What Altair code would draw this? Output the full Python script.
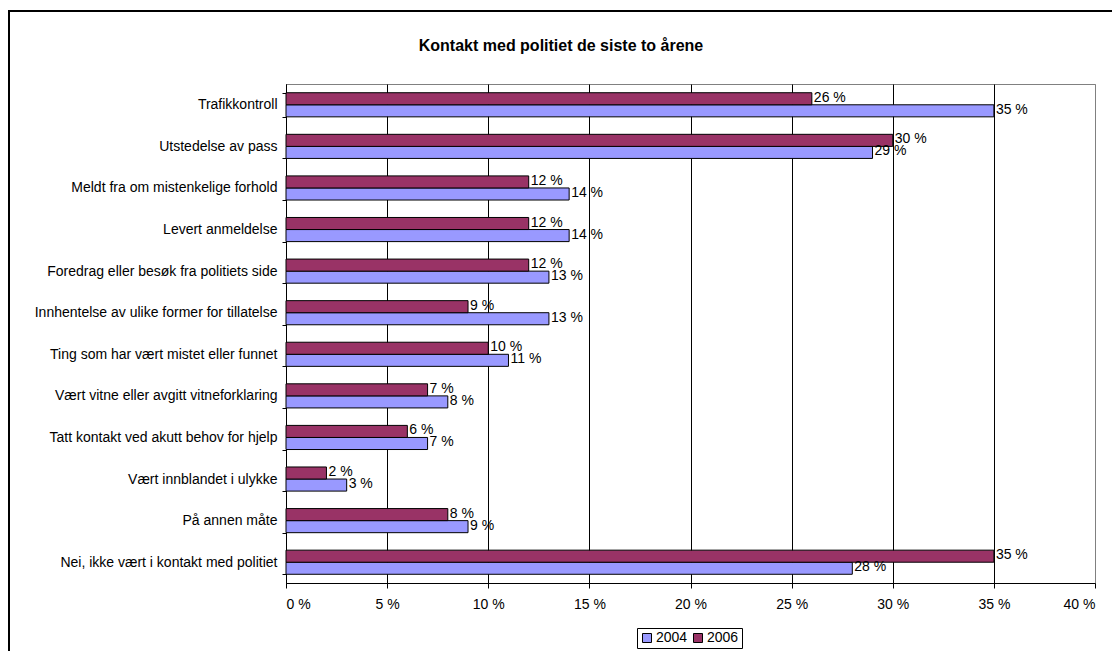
import altair as alt
import pandas as pd

categories = [
    "Trafikkontroll",
    "Utstedelse av pass",
    "Meldt fra om mistenkelige forhold",
    "Levert anmeldelse",
    "Foredrag eller besøk fra politiets side",
    "Innhentelse av ulike former for tillatelse",
    "Ting som har vært mistet eller funnet",
    "Vært vitne eller avgitt vitneforklaring",
    "Tatt kontakt ved akutt behov for hjelp",
    "Vært innblandet i ulykke",
    "På annen måte",
    "Nei, ikke vært i kontakt med politiet",
]
values_2004 = [35, 29, 14, 14, 13, 13, 11, 8, 7, 3, 9, 28]
values_2006 = [26, 30, 12, 12, 12, 9, 10, 7, 6, 2, 8, 35]
x_ticks = [0, 5, 10, 15, 20, 25, 30, 35, 40]
title_text = "Kontakt med politiet de siste to årene"

rows = []
for c, v4, v6 in zip(categories, values_2004, values_2006):
    rows.append({"kategori": c, "år": "2004", "verdi": v4})
    rows.append({"kategori": c, "år": "2006", "verdi": v6})
df = pd.DataFrame(rows)
df["etikett"] = df["verdi"].astype(str) + " %"
single = pd.DataFrame([{"tekst": title_text}])

FONT = "Liberation Sans"
FS = 14
W, H = 809, 499

y_enc = alt.Y(
    "kategori:N",
    sort=categories,
    title=None,
    scale=alt.Scale(paddingInner=0.42, paddingOuter=0.21),
    axis=alt.Axis(
        labelFont=FONT, labelFontSize=FS, labelColor="black",
        domainColor="black", tickColor="black", tickSize=4,
        tickBand="extent", labelPadding=5, labelLimit=300,
        grid=False,
    ),
)
yoff = alt.YOffset("år:N", sort=["2006", "2004"], scale=alt.Scale(paddingInner=0, paddingOuter=0))

x_enc = alt.X(
    "verdi:Q",
    title=None,
    scale=alt.Scale(domain=[0, 40], nice=False),
    axis=alt.Axis(
        values=x_ticks, labelExpr="datum.value + ' %'",
        labelFont=FONT, labelFontSize=FS, labelColor="black",
        domainColor="black", tickColor="black", tickSize=5,
        labelPadding=9,
        grid=True,
        gridColor={"condition": {"test": "datum.value >= 40", "value": "#808080"}, "value": "black"},
        gridOpacity=1,
    ),
)

color = alt.Color(
    "år:N",
    scale=alt.Scale(domain=["2004", "2006"], range=["#9999FF", "#993366"]),
    legend=alt.Legend(
        title=None, orient="none", direction="horizontal",
        legendX=351, legendY=544,
        symbolType="square", symbolSize=81, symbolStrokeColor="black",
        symbolStrokeWidth=1, symbolOpacity=1,
        labelFont=FONT, labelFontSize=FS, labelColor="black",
        strokeColor="black", fillColor="white", padding=3,
        columnPadding=3, labelOffset=2,
    ),
)

bars = alt.Chart(df).mark_bar(stroke="black", strokeWidth=1, opacity=1).encode(
    y=y_enc, yOffset=yoff, x=x_enc, color=color,
)

labels = alt.Chart(df).mark_text(
    align="left", baseline="middle", dx=2, dy=-1,
    font=FONT, fontSize=FS, color="black",
).encode(
    y=alt.Y("kategori:N", sort=categories),
    yOffset=yoff,
    x=alt.X("verdi:Q"),
    text="etikett:N",
)

title = alt.Chart(single).mark_text(
    font=FONT, fontSize=16, fontWeight="bold",
    color="black", align="center", baseline="middle",
).encode(x=alt.value(275), y=alt.value(-38), text="tekst:N")

frame_left = alt.Chart(single).mark_rule(color="black", strokeWidth=2).encode(
    x=alt.value(-277), y=alt.value(-73), y2=alt.value(H + 200),
)
frame_top = alt.Chart(single).mark_rule(color="black", strokeWidth=2).encode(
    x=alt.value(-278), x2=alt.value(W + 200), y=alt.value(-73),
)

chart = alt.layer(bars, labels, title, frame_left, frame_top).properties(
    width=W, height=H,
    autosize=alt.AutoSizeParams(type="none"),
    padding={"left": 278, "top": 76, "right": 17, "bottom": 68},
).configure_view(stroke="#808080", strokeWidth=1)

chart.save("out.html", embed_options={"renderer": "svg", "actions": False})
